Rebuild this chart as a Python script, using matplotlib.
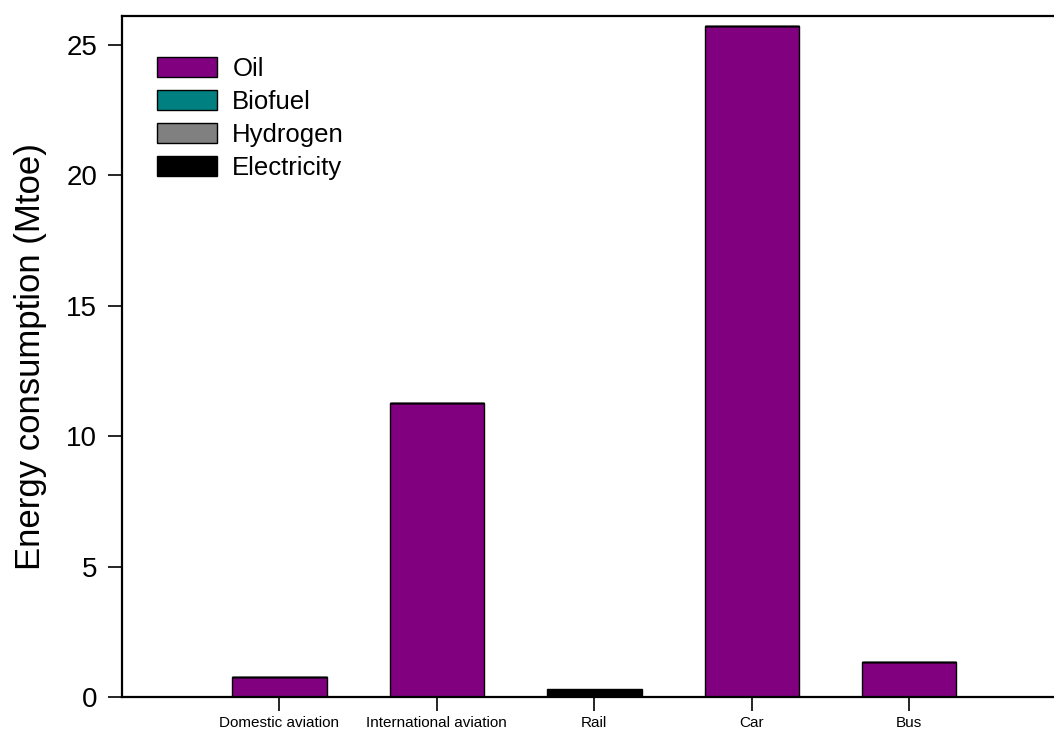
import numpy as np
import matplotlib
matplotlib.use("Agg")
import matplotlib.pyplot as plt

# data
categories = ["Domestic aviation", "International aviation", "Rail", "Car", "Bus"]
oil = [0.77, 11.25, 0.0, 25.7, 1.35]
biofuel = [0.0, 0.0, 0.0, 0.0, 0.0]
hydrogen = [0.0, 0.0, 0.0, 0.0, 0.0]
electricity = [0.0, 0.0, 0.30, 0.0, 0.0]
y_ticks = [0, 5, 10, 15, 20, 25]

plt.rcParams['font.family'] = ['Liberation Sans', 'DejaVu Sans']

fig = plt.figure(figsize=(10.54, 7.31), dpi=100)
ax = fig.add_axes([122 / 1054, 34 / 731, 932 / 1054, 681 / 731])

x = np.arange(len(categories))
bar_width = 0.6
series = [("Oil", oil, "#800080"),
          ("Biofuel", biofuel, "#008080"),
          ("Hydrogen", hydrogen, "#808080"),
          ("Electricity", electricity, "#000000")]

bottom = np.zeros(len(categories))
for name, vals, col in series:
    vals = np.array(vals)
    ax.bar(x, vals, bar_width, bottom=bottom, color=col, edgecolor="black",
           linewidth=1, label=name)
    bottom += vals

ax.set_xlim(-1.0, 4.92)
ax.set_ylim(0, 26.1)
ax.set_xticks(x)
ax.set_xticklabels(categories, fontsize=11)
ax.set_yticks(y_ticks)
ax.tick_params(axis='y', labelsize=20, length=10, width=1.2, direction='out', pad=8)
ax.tick_params(axis='x', length=10, width=1.2, direction='out', pad=4)
ax.set_ylabel("Energy consumption (Mtoe)", fontsize=25)
ax.yaxis.set_label_coords(-0.08, 0.5)

ax.spines['right'].set_visible(False)
for s in ['left', 'bottom', 'top']:
    ax.spines[s].set_linewidth(1.6)

legend = ax.legend(loc="upper left", bbox_to_anchor=(0.0376, 0.94), frameon=False,
                   fontsize=18.5, handlelength=2.33, handleheight=0.78,
                   labelspacing=0.35, handletextpad=0.6, borderpad=0, borderaxespad=0)

fig.savefig("out.png", dpi=100)
